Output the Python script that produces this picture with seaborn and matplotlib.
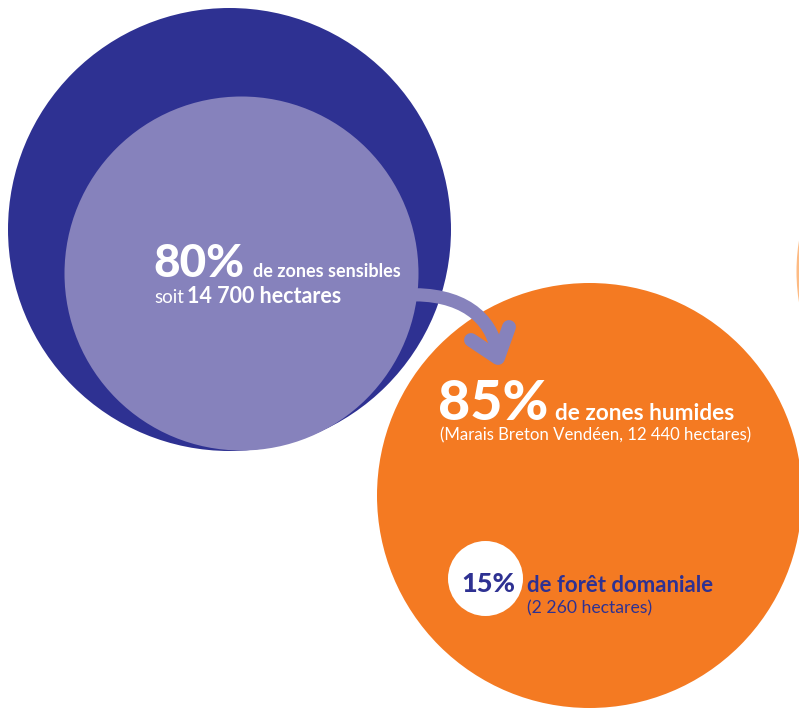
import matplotlib
matplotlib.use("Agg")
import matplotlib.pyplot as plt
from matplotlib.path import Path
from matplotlib.patches import PathPatch
import seaborn as sns
import pandas as pd

# ---- data ----
percentages = [80, 85, 15]
labels = ["de zones sensibles", "de zones humides", "de forêt domaniale"]
hectares = [14700, 12440, 2260]
place_note = "Marais Breton Vendéen"

def fmt(v):
    return f"{v:,}".replace(",", " ")

# ---- styling ----
DARK = "#2E3192"
LIGHT = "#8682BC"
ORANGE = "#F47A22"
PALE = "#FDBB84"
WHITE = "#FFFFFF"

sns.set_theme(style="white")
plt.rcParams["font.family"] = ["Lato", "DejaVu Sans"]

W, H, DPI = 799, 709, 100
fig = plt.figure(figsize=(W / DPI, H / DPI), dpi=DPI)
ax = fig.add_axes([0, 0, 1, 1])
ax.set_xlim(0, W)
ax.set_ylim(H, 0)
ax.axis("off")

# circle layout (pixel coordinates)
circles = pd.DataFrame({
    "name": ["pale", "dark", "light", "orange", "white"],
    "x": [989, 228.5, 241, 589, 484.5],
    "y": [271, 228.5, 273, 494.5, 577.5],
    "r": [193, 221.5, 177, 212.5, 37.5],
    "color": [PALE, DARK, LIGHT, ORANGE, WHITE],
})

def pts_size(r):
    d_pt = 2 * r * 72 / DPI
    return d_pt ** 2

for i, row in circles.iterrows():
    sns.scatterplot(x=[row.x], y=[row.y], s=pts_size(row.r), color=row.color,
                    linewidth=0, marker="o", ax=ax, zorder=2 + i, legend=False)

# curved arrow
shaft = Path([(405, 295), (462, 292), (492, 318), (497, 352)],
             [Path.MOVETO, Path.CURVE4, Path.CURVE4, Path.CURVE4])
ax.add_patch(PathPatch(shaft, fill=False, edgecolor=LIGHT, lw=9.5,
                       capstyle="round", zorder=10))
ax.plot([471, 498, 509], [340, 358, 327], color=LIGHT, lw=10,
        solid_capstyle="round", solid_joinstyle="round", zorder=10)

# texts
ax.text(153, 277, f"{percentages[0]}%", color=WHITE, fontsize=33,
        fontweight="black", va="baseline", ha="left", zorder=20)
ax.text(253, 277, labels[0], color=WHITE, fontsize=13,
        fontweight="bold", va="baseline", ha="left", zorder=20)
ax.text(154, 303, "soit", color=WHITE, fontsize=13.5,
        fontweight="normal", va="baseline", ha="left", zorder=20)
ax.text(187, 303, f"{fmt(hectares[0])} hectares", color=WHITE, fontsize=15.5,
        fontweight="bold", va="baseline", ha="left", zorder=20)

ax.text(438, 420, f"{percentages[1]}%", color=WHITE, fontsize=40,
        fontweight="black", va="baseline", ha="left", zorder=20)
ax.text(555, 420, labels[1], color=WHITE, fontsize=16.3,
        fontweight="bold", va="baseline", ha="left", zorder=20)
ax.text(440, 440, f"({place_note}, {fmt(hectares[1])} hectares)", color=WHITE,
        fontsize=12.1, fontweight="normal", va="baseline", ha="left", zorder=20)

ax.text(461, 592, f"{percentages[2]}%", color=DARK, fontsize=19.5,
        fontweight="black", va="baseline", ha="left", zorder=20)
ax.text(527, 592, labels[2], color=DARK, fontsize=15.9,
        fontweight="bold", va="baseline", ha="left", zorder=20)
ax.text(527, 613, f"({fmt(hectares[2])} hectares)", color=DARK,
        fontsize=12.7, fontweight="normal", va="baseline", ha="left", zorder=20)

fig.savefig("out.png", dpi=DPI, facecolor="white")
